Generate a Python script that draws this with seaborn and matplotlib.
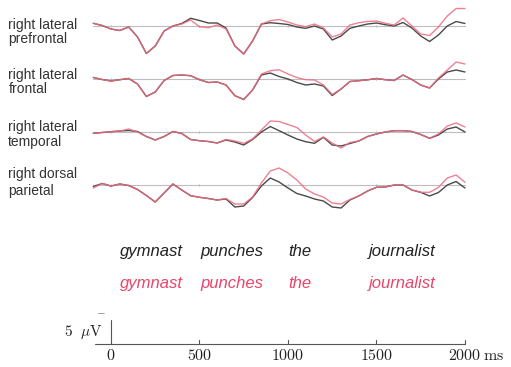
import numpy as np
import pandas as pd
import matplotlib.pyplot as plt
import seaborn as sns

# ERP traces, sampled every 50 ms (amplitude in plot units, 24 units = 5 uV, up is positive on screen)
times = np.arange(-100, 2001, 50)

regions = ["right lateral\nprefrontal", "right lateral\nfrontal",
           "right lateral\ntemporal", "right dorsal\nparietal"]

pref_black = [2.7, 0.5, -3, -4.5, -1, -11, -27.5, -20, -5, 0,
              2.5, 7.7, 5.5, 3, 3, -2, -20, -28, -15, 2,
              3.3, 2.5, 1.5, -1, -2.3, 0, -3, -14, -10, -2.3,
              0, 2, 3, 1.3, 0, 3.5, -2, -10, -15.5, -9,
              0, 4.5, 2.5]
pref_red = [2.7, 0.5, -3, -4.5, -1, -11, -27.5, -20, -5, 0,
            2, 6, -0.7, -1.7, 1, -3, -20, -28, -15, 2,
            5.3, 6.5, 4, 1, -0.7, 2, -2, -11, -8, 1,
            3.3, 4.5, 5, 2.7, 1, 8, 0, -8, -9.5, -1,
            10, 17.5, 17.5]

front_black = [1.5, -0.5, -2, -0.7, 0.5, -5, -17.5, -13, -1.5, 3.5,
               4, 3.3, -0.7, -3.5, -3, -6, -16.7, -20.5, -11, 4,
               6, 2.5, 0, -3.5, -6, -5, -7, -16.5, -10, -2.5,
               -1.7, -0.8, 0.5, -0.7, -1.5, 4, -0.5, -6, -9, 0,
               7, 9, 7]
front_red = [1.5, -0.5, -2, -0.7, 0.5, -5, -17.5, -13, -1.5, 3.5,
             4, 3.3, -0.7, -3.5, -3, -6, -16.7, -20.5, -11, 5,
             8.3, 9.2, 5, 1.5, -0.7, -1, -6, -15.5, -10, -2.5,
             -1.7, -0.8, 0.5, -0.7, -1.5, 4, -0.5, -6, -9, 1,
             9, 17, 15]

temp_black = [-1.3, -0.5, 0.3, 1, 1.5, 0.5, -4.5, -8, -4.5, 0.5,
              -1.5, -7.5, -8.7, -9.5, -11, -8, -10, -13, -7.5, 0,
              5.5, 1.3, -3, -7, -9.7, -11.3, -5.3, -13, -14, -11.5,
              -9, -4.5, -2, 0, 1.3, 1.3, 0.5, -2.5, -6.3, -3,
              3, 5, 0]
temp_red = [-1.3, -0.5, 0.3, 1, 3, 0, -4.5, -8, -4.5, 0.5,
            -1.5, -7.5, -8.7, -9.5, -11, -7.5, -9, -11.3, -7, 2,
            11, 10.5, 7.5, 4.5, -3, -9.5, -5, -11, -16, -10.5,
            -9, -4.5, -2, 0, 1.3, 1.3, 0.5, -2.5, -6.3, -2,
            6, 9, 5]

par_black = [-1.5, 1.5, -1, 1, -0.5, -4.5, -10.5, -17, -8, 1,
             -5, -10.7, -12.3, -13.5, -15, -14, -22, -21, -12.5, -1,
             7, 3, -3, -8.5, -11, -14, -16, -22, -23, -15,
             -11, -6, -2.3, -2, 0, 0, -5, -7.3, -11, -7.5,
             0, 3.5, -3]
par_red = [-3, 1.5, -1, 1, -0.5, -4.5, -10.5, -17, -8, 1,
           -5, -10.7, -12.3, -13.5, -15, -13.5, -19, -19, -12, 2,
           14, 17, 12, 5, -4, -9, -12, -18, -19, -14.5,
           -11, -6, -2.3, -2, 0, 0, -5, -7.3, -7.3, -2.5,
           7, 10, 2.7]

black_traces = [pref_black, front_black, temp_black, par_black]
red_traces = [pref_red, front_red, temp_red, par_red]

words = ["gymnast", "punches", "the", "journalist"]
word_onsets = [50, 505, 1000, 1455]
tick_ms = [0, 500, 1000, 1500, 2000]

black_col = "#4a4a4a"
red_col = "#ee6a80"
word_red = "#e8456a"

sns.set_style("white")
plt.rcParams["mathtext.fontset"] = "cm"

fig = plt.figure(figsize=(5.11, 3.67), dpi=100)
ax = fig.add_axes([0, 0, 1, 1])
ax.set_xlim(-627, 2260)
ax.set_ylim(-367, 0)
ax.axis("off")

baselines = [-26, -79, -132, -185]
label_y = [(-25, -39), (-75, -89), (-127, -142), (-174, -191)]

for i, name in enumerate(regions):
    b = baselines[i]
    ax.plot([-100, 2000], [b, b], color="#bdbdbd", lw=0.8, zorder=1)
    for t in tick_ms[:-1]:
        ax.plot([t, t], [b - 1.2, b + 1.2], color="#bdbdbd", lw=0.6, zorder=1)
    df = pd.DataFrame({"t": times,
                       "black": b + np.array(black_traces[i]),
                       "red": b + np.array(red_traces[i])})
    sns.lineplot(data=df, x="t", y="black", ax=ax, color=black_col, lw=1.0, zorder=2)
    sns.lineplot(data=df, x="t", y="red", ax=ax, color=red_col, lw=1.0, alpha=0.85, zorder=3)
    l1, l2 = name.split("\n")
    ax.text(-580, label_y[i][0], l1, fontsize=10, family="Liberation Sans",
            color="#333333", va="center", ha="left")
    ax.text(-580, label_y[i][1], l2, fontsize=10, family="Liberation Sans",
            color="#333333", va="center", ha="left")

ax.set_xlabel("")
ax.set_ylabel("")

# sentence words
for w, t in zip(words, word_onsets):
    ax.text(t, -256, w, fontsize=12, style="italic", family="Liberation Sans",
            color="#222222", va="baseline", ha="left")
    ax.text(t, -288, w, fontsize=12, style="italic", family="Liberation Sans",
            color=word_red, va="baseline", ha="left")

# time axis and voltage scale bar
ax.plot([-90, 2000], [-344, -344], color="#555555", lw=0.8)
for t in tick_ms[1:]:
    ax.plot([t, t], [-344, -340], color="#555555", lw=0.8)
ax.plot([0, 0], [-344, -320], color="#555555", lw=0.8)
ax.text(-56, -311, r"$-$", fontsize=8, ha="center", va="center", color="#333333")
ax.text(-45, -332, r"$5\ \ \mu\mathrm{V}$", fontsize=11, ha="right", va="center", color="#222222")
for t in tick_ms:
    ax.text(t, -356, r"$%d$" % t, fontsize=11.5, ha="center", va="center", color="#222222")
ax.text(2100, -356, r"$\mathrm{ms}$", fontsize=11.5, ha="left", va="center", color="#222222")

fig.savefig("out.png", dpi=100)
